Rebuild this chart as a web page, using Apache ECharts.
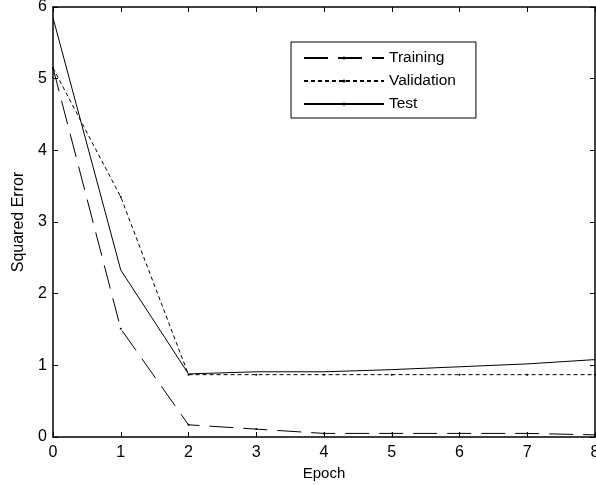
<!DOCTYPE html>
<html>
<head>
<meta charset="utf-8">
<script src="https://cdn.jsdelivr.net/npm/echarts@6/dist/echarts.min.js"></script>
<style>
	html, body { margin: 0; padding: 0; background: #fff; }
	#chart { width: 596px; height: 485px; }
</style>
</head>
<body>
<div id="chart"></div>
<script>
	// epochs and squared error per data set
	var epochs = [0, 1, 2, 3, 4, 5, 6, 7, 8];
	var training = [5.15, 1.51, 0.17, 0.11, 0.05, 0.05, 0.05, 0.05, 0.03];
	var validation = [5.15, 3.35, 0.87, 0.87, 0.87, 0.87, 0.87, 0.87, 0.87];
	var test = [5.85, 2.33, 0.88, 0.91, 0.91, 0.94, 0.98, 1.02, 1.08];

	function pairs(ys) {
		return epochs.map(function(x, i) { return [x, ys[i]]; });
	}

	var font = 'Liberation Sans, Arial, sans-serif';

	function lineSeries(name, ys, type, dots) {
		return {
			name: name,
			type: 'line',
			data: pairs(ys),
			symbol: dots ? 'circle' : 'none',
			symbolSize: 2,
			animation: false,
			itemStyle: { color: '#000' },
			lineStyle: { color: '#000', width: 1, type: type }
		};
	}

	var boxAxis = {
		min: 0,
		axisLine: { show: true, onZero: false, lineStyle: { color: '#000', width: 1.5 } },
		axisTick: { show: true, inside: true, length: 5, lineStyle: { color: '#000' } },
		splitLine: { show: false }
	};

	var option = {
		backgroundColor: '#fff',
		animation: false,
		grid: { left: 53, top: 7, right: 1, bottom: 48, containLabel: false, outerBoundsMode: 'none' },
		legend: {
			orient: 'vertical',
			left: 291,
			top: 42,
			padding: [7, 20, 5, 12],
			itemGap: 5,
			itemWidth: 80,
			itemHeight: 4,
			borderColor: '#000',
			borderWidth: 1,
			backgroundColor: '#fff',
			textStyle: { fontSize: 15.5, color: '#000', fontFamily: font, lineHeight: 18 },
			data: ['Training', 'Validation', 'Test']
		},
		xAxis: [
			Object.assign({}, boxAxis, {
				type: 'value', max: 8, interval: 1, position: 'bottom',
				name: 'Epoch', nameLocation: 'middle', nameGap: 29,
				nameTextStyle: { fontSize: 15, color: '#000', fontFamily: font },
				axisLabel: { fontSize: 16, color: '#000', fontFamily: font, margin: 8 }
			}),
			Object.assign({}, boxAxis, {
				type: 'value', max: 8, interval: 1, position: 'top',
				axisLabel: { show: false }
			})
		],
		yAxis: [
			Object.assign({}, boxAxis, {
				type: 'value', max: 6, interval: 1, position: 'left',
				name: 'Squared Error', nameLocation: 'middle', nameGap: 26,
				nameTextStyle: { fontSize: 16, color: '#000', fontFamily: font },
				axisLabel: { fontSize: 16, color: '#000', fontFamily: font, margin: 6 }
			}),
			Object.assign({}, boxAxis, {
				type: 'value', max: 6, interval: 1, position: 'right',
				axisLabel: { show: false }
			})
		],
		series: [
			lineSeries('Training', training, [24, 10], true),
			lineSeries('Validation', validation, [4, 3], true),
			lineSeries('Test', test, 'solid', false)
		]
	};

	var myChart = echarts.init(document.getElementById('chart'));
	myChart.setOption(option);
</script>
</body>
</html>
